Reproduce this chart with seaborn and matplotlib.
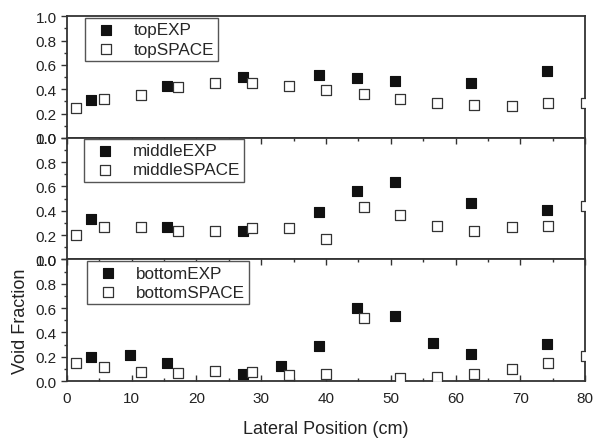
import numpy as np
import pandas as pd
import seaborn as sns
import matplotlib
matplotlib.use("Agg")
import matplotlib.pyplot as plt
from matplotlib.ticker import MultipleLocator

# ---- data ----
exp_x_tm = [3.7, 15.5, 27.2, 38.9, 44.8, 50.6, 62.4, 74.1]
space_x = [1.4, 5.7, 11.4, 17.2, 22.9, 28.6, 34.3, 40.0, 45.8, 51.4, 57.2, 62.9, 68.7, 74.3, 80.1]

top_exp = [0.31, 0.43, 0.50, 0.52, 0.49, 0.47, 0.45, 0.55]
top_space = [0.245, 0.317, 0.35, 0.415, 0.455, 0.452, 0.424, 0.397, 0.361, 0.322,
             0.286, 0.273, 0.264, 0.284, 0.286]

middle_exp = [0.33, 0.267, 0.234, 0.388, 0.564, 0.641, 0.465, 0.407]
middle_space = [0.198, 0.267, 0.267, 0.236, 0.231, 0.256, 0.261, 0.168, 0.434, 0.368,
                0.272, 0.234, 0.264, 0.278, 0.443]

bottom_exp_x = [3.7, 9.7, 15.5, 27.2, 33.0, 38.9, 44.8, 50.6, 56.5, 62.4, 74.1]
bottom_exp = [0.196, 0.218, 0.146, 0.061, 0.121, 0.287, 0.599, 0.532, 0.309, 0.226, 0.303]
bottom_space = [0.146, 0.113, 0.072, 0.066, 0.086, 0.077, 0.052, 0.055, 0.521, 0.022,
                0.033, 0.061, 0.099, 0.146, 0.204]

x_ticks = [0, 10, 20, 30, 40, 50, 60, 70, 80]
y_ticks = [0.0, 0.2, 0.4, 0.6, 0.8, 1.0]

panels = [
    ("top", exp_x_tm, top_exp, top_space, (0.035, 0.986)),
    ("middle", exp_x_tm, middle_exp, middle_space, (0.033, 0.992)),
    ("bottom", bottom_exp_x, bottom_exp, bottom_space, (0.039, 0.984)),
]

sns.set_theme(style="white")
plt.rcParams["font.family"] = ["Liberation Sans", "DejaVu Sans"]

fig, axes = plt.subplots(3, 1, figsize=(5.93, 4.39), dpi=100, sharex=True)
fig.subplots_adjust(left=0.1125, right=0.987, top=0.9606, bottom=0.1298, hspace=0)

edge = "#333333"
for i, (name, ex, ev, sv, anchor) in enumerate(panels):
    ax = axes[i]
    sns.scatterplot(x=ex, y=ev, ax=ax, marker="s", s=62, color="#111111",
                    edgecolor="#111111", linewidth=0.8, label=f"{name}EXP", zorder=3)
    sns.scatterplot(x=space_x, y=sv, ax=ax, marker="s", s=56, facecolor="white",
                    edgecolor=edge, linewidth=0.9, label=f"{name}SPACE", zorder=3)
    ax.set_xlim(0, 80)
    ax.set_ylim(0, 1.0)
    ax.set_yticks(y_ticks)
    ax.set_yticklabels([f"{t:.1f}" for t in y_ticks])
    ax.yaxis.set_minor_locator(MultipleLocator(0.1))
    ax.set_xticks(x_ticks)
    ax.xaxis.set_minor_locator(MultipleLocator(5))
    for sp in ax.spines.values():
        sp.set_color(edge)
        sp.set_linewidth(1.3)
    ax.tick_params(axis="y", which="major", direction="out", length=4.3, width=1,
                   color=edge, labelsize=11, labelcolor="#222222", left=True, right=False, pad=3)
    ax.tick_params(axis="y", which="minor", direction="out", length=2.2, width=1,
                   color=edge, left=True, right=False)
    if i == 0:
        ax.tick_params(axis="x", which="both", bottom=False, top=False, labelbottom=False)
    else:
        ax.tick_params(axis="x", which="major", direction="in", length=4, width=1,
                       color=edge, top=True, bottom=(i == 2), labelbottom=(i == 2),
                       labelsize=11, labelcolor="#222222", pad=7)
        ax.tick_params(axis="x", which="minor", direction="in", length=2.5, width=1,
                       color=edge, top=True, bottom=(i == 2))
    ax.set_xlabel("")
    ax.set_ylabel("")
    leg = ax.legend(loc="upper left", bbox_to_anchor=anchor, borderaxespad=0,
                    fontsize=12.3, frameon=True, fancybox=False, framealpha=1,
                    edgecolor="#555555", borderpad=0.25, labelspacing=0.25,
                    handlelength=2.0, handletextpad=0.6, markerscale=1.0)
    leg.get_frame().set_linewidth(1.0)
    leg.set_zorder(10)

axes[2].set_xlabel("Lateral Position (cm)", fontsize=13, color="#222222", labelpad=11)
axes[2].set_ylabel("Void Fraction", fontsize=13, color="#222222", labelpad=5)

fig.savefig("out.png", dpi=100)
